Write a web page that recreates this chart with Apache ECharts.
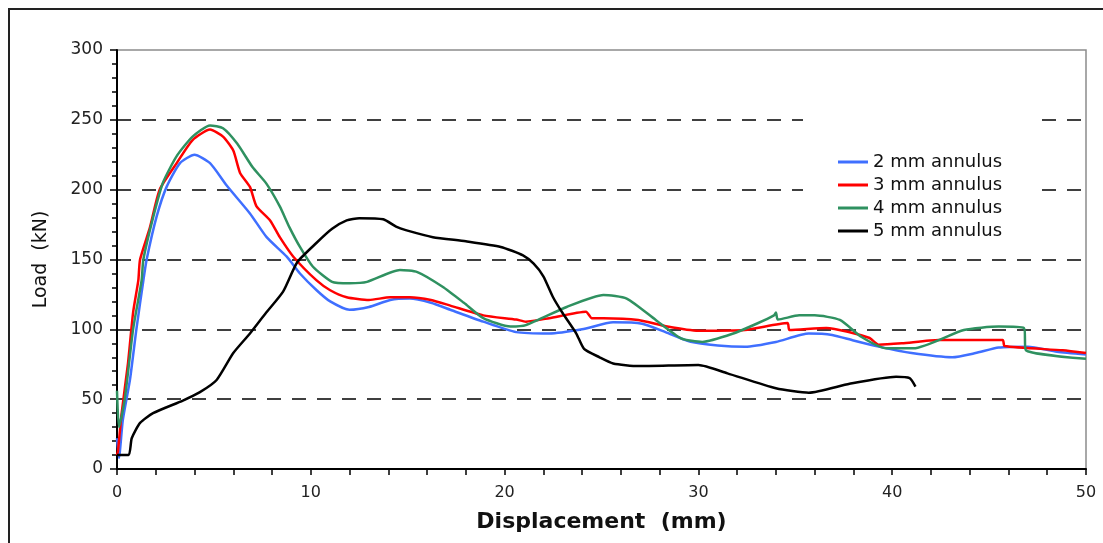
<!DOCTYPE html>
<html>
<head>
<meta charset="utf-8">
<script src="https://cdn.jsdelivr.net/npm/echarts@6/dist/echarts.min.js"></script>
<style>
  html, body { margin: 0; padding: 0; background: #fff; }
</style>
</head>
<body>
<div id="main" style="width: 1103px; height: 543px"></div>
<script>
// axis ticks
const xTicks = [0, 10, 20, 30, 40, 50]
const yTicks = [0, 50, 100, 150, 200, 250, 300]

// 2 mm annulus
const disp2 = [0, 0.1, 0.3, 0.67, 1.0, 1.36, 1.53, 2.05, 2.56, 3.25, 4.0, 4.8, 5.66, 6.86, 7.72, 8.76, 9.44, 10.3, 11.0, 12.0, 13.0, 14.1, 15.1, 16.2, 17.2, 18.9, 20.6, 22.3, 24.0, 25.6, 27.1, 28.3, 29.6, 31.0, 32.4, 34.0, 35.7, 36.9, 38.0, 39.3, 41.0, 43.1, 44.3, 45.5, 47.0, 48.5, 50]
const load2 = [22, 8, 35, 64, 100, 135, 150, 181, 202, 219, 225, 219, 203, 183, 166, 152, 140, 128, 120, 114, 116, 121, 122, 119, 114, 105.5, 98, 97, 100, 105, 104, 98, 91, 88.5, 87.6, 91, 97, 96, 92, 87.6, 83, 80, 83, 87, 87.6, 84, 82]

// 3 mm annulus
const disp3 = [0, 0.05, 0.24, 0.57, 0.83, 1.1, 1.19, 1.7, 2.2, 3.08, 3.9, 4.8, 5.47, 6.0, 6.35, 6.86, 7.2, 7.9, 8.4, 9.1, 10.3, 11.0, 11.85, 13.0, 14.1, 15.1, 16.2, 17.2, 18.9, 20.6, 21.1, 22.3, 24.2, 24.5, 25.1, 26.9, 28.4, 30.0, 32.4, 34.6, 34.7, 36.6, 38.8, 39.3, 40.5, 42.4, 45.7, 45.8, 48.8, 50]
const load3 = [10, 13, 40, 76, 112, 135, 150, 173, 200, 219, 235.5, 243, 238, 228, 212, 202, 188, 178, 166, 152, 135, 128, 123, 121, 123, 123, 121, 117, 110, 107, 105.5, 108, 112.6, 108, 108, 106.7, 102, 99, 99.5, 104.5, 99.5, 101, 94, 89, 90, 92.4, 92.4, 88, 85, 83]

// 4 mm annulus
const disp4 = [0, 0.1, 0.4, 0.83, 1.27, 1.36, 1.86, 2.37, 3.08, 3.9, 4.8, 5.47, 6.2, 7.0, 7.7, 8.4, 8.9, 9.44, 10.1, 11.1, 12.0, 12.9, 14.6, 15.5, 16.8, 17.9, 18.9, 20.3, 21.1, 23.2, 25.1, 26.3, 27.8, 29.1, 30.2, 31.8, 33.0, 33.9, 34.0, 34.1, 35.2, 36.0, 37.3, 38.4, 39.7, 41.1, 43.7, 45.5, 46.8, 46.9, 50]
const load4 = [56, 30, 50, 100, 135, 150, 180, 205, 224, 238, 246, 244, 233, 216, 204.5, 188, 173, 159, 145, 134, 133, 134, 142.5, 141, 130.5, 119, 108, 102, 103, 116, 124.6, 122, 106.7, 93.6, 91, 97, 104, 110, 112, 107, 110, 110, 106.7, 94.7, 86.4, 86.4, 99.5, 102, 101, 85, 79]

// 5 mm annulus
const disp5 = [0, 0.6, 0.76, 1.19, 1.86, 3.4, 4.28, 5.14, 6.0, 6.86, 7.7, 8.57, 9.3, 10.3, 11.1, 11.85, 12.5, 13.74, 14.4, 14.9, 16.3, 18.0, 19.8, 20.95, 21.5, 22.0, 22.5, 23.0, 23.7, 24.1, 24.9, 25.6, 26.9, 30.0, 31.5, 34.0, 35.7, 37.8, 40.2, 40.9, 41.2]
const load5 = [10, 10, 22, 33, 40, 49, 55, 63.7, 83, 97, 112, 127, 148, 162, 172, 178, 179.6, 178.8, 173.5, 171, 166, 163, 159, 153, 147, 138, 123, 111.5, 97, 86, 80, 75.6, 73.7, 74.5, 68.5, 57.8, 54.6, 61, 66, 65, 59]

const names = ['2 mm annulus', '3 mm annulus', '4 mm annulus', '5 mm annulus']
const colors = ['#3f6fff', '#ff0000', '#2f9160', '#000000']

const pairs = (xs, ys) => xs.map((x, i) => [x, ys[i]])
const curves = [pairs(disp2, load2), pairs(disp3, load3), pairs(disp4, load4), pairs(disp5, load5)]

const myChart = echarts.init(document.getElementById('main'))
const option = {
  animation: false,
  backgroundColor: '#fff',
  // outer frame + white box behind the legend
  graphic: [
    {
      type: 'polyline',
      shape: { points: [[9, 543], [9, 9], [1103, 9]] },
      style: { stroke: '#222', lineWidth: 2, fill: null },
      z: 10
    },
    {
      type: 'rect',
      shape: { x: 803, y: 108, width: 237, height: 137 },
      style: { fill: '#fff' },
      z: 3
    }
  ],
  legend: {
    data: names,
    orient: 'vertical',
    left: 838,
    top: 153,
    padding: 0,
    itemWidth: 30,
    itemHeight: 3,
    itemGap: 5,
    icon: 'rect',
    textStyle: { fontFamily: 'DejaVu Sans', fontSize: 18, lineHeight: 18, color: '#111' },
    z: 5
  },
  grid: {
    left: 117,
    right: 17,
    top: 50,
    bottom: 74,
    show: true,
    borderColor: '#8c8c8c',
    borderWidth: 1.5
  },
  xAxis: {
    type: 'value',
    min: xTicks[0],
    max: xTicks[xTicks.length - 1],
    interval: 10,
    name: 'Displacement  (mm)',
    nameLocation: 'middle',
    nameGap: 42,
    nameTextStyle: { fontFamily: 'DejaVu Sans', fontSize: 22, fontWeight: 'bold', color: '#111' },
    axisLine: { lineStyle: { color: '#000', width: 2 } },
    axisTick: { length: 6, lineStyle: { color: '#000', width: 1.5 } },
    minorTick: { show: true, splitNumber: 5, length: 6, lineStyle: { color: '#000', width: 1.5 } },
    splitLine: { show: false },
    axisLabel: { margin: 16, fontFamily: 'DejaVu Sans', fontSize: 16, color: '#222' }
  },
  yAxis: {
    type: 'value',
    min: yTicks[0],
    max: yTicks[yTicks.length - 1],
    interval: 50,
    name: 'Load  (kN)',
    nameLocation: 'middle',
    nameGap: 66,
    nameTextStyle: { fontFamily: 'DejaVu Sans', fontSize: 19, color: '#111' },
    axisLine: { show: true, lineStyle: { color: '#000', width: 2 } },
    axisTick: { show: true, length: 7, lineStyle: { color: '#000', width: 1.5 } },
    minorTick: { show: true, splitNumber: 5, length: 5, lineStyle: { color: '#000', width: 1.5 } },
    splitLine: {
      show: true,
      showMinLine: false,
      showMaxLine: false,
      lineStyle: { color: '#000', width: 1.6, type: [14, 11] }
    },
    axisLabel: { margin: 14, fontFamily: 'DejaVu Sans', fontSize: 17, color: '#222' }
  },
  series: curves.map((d, i) => ({
    name: names[i],
    type: 'line',
    data: d,
    showSymbol: false,
    smooth: 0.2,
    color: colors[i],
    lineStyle: { width: 2.5, color: colors[i] }
  }))
}
myChart.setOption(option)
</script>
</body>
</html>
